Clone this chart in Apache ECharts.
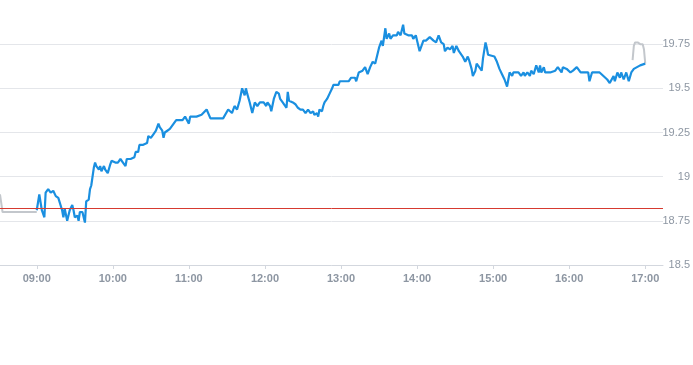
<!DOCTYPE html>
<html>
<head>
<meta charset="utf-8">
<script src="https://cdn.jsdelivr.net/npm/echarts@6/dist/echarts.min.js"></script>
<style>
html,body{margin:0;padding:0;background:#fff;}
#chart{width:693px;height:365px;}
</style>
</head>
<body>
<div id="chart"></div>
<script>
// Axis range (minutes, as HH:MM category labels)
var axisStart = '08:31';
var axisEnd = '17:14';
var prevClose = 18.82;
var yTicks = [18.5, 18.75, 19, 19.25, 19.5, 19.75];

// Pre-market (grey)
var preTimes = ['08:31','08:33','09:00'];
var preValues = [18.90, 18.80, 18.80];

// Regular session (blue)
var mainTimes = ['09:00','09:02','09:04','09:06','09:07','09:09','09:11','09:13','09:15','09:17','09:20','09:21','09:22','09:24','09:26','09:28','09:29','09:30','09:32','09:33','09:34','09:36','09:38','09:39','09:41','09:42','09:43','09:45','09:46','09:47','09:49','09:50','09:51','09:53','09:54','09:56','09:58','09:59',
'10:00','10:02','10:04','10:06','10:08','10:10','10:11','10:14','10:15','10:17','10:18','10:20','10:21','10:24','10:25','10:27','10:28','10:30','10:32','10:34','10:36','10:37','10:39','10:40','10:41','10:43','10:45','10:46','10:48','10:50','10:53','10:55','10:57','10:58',
'11:00','11:01','11:06','11:07','11:10','11:14','11:17','11:27','11:31','11:34','11:36','11:38','11:40','11:42','11:44','11:45','11:46','11:48','11:50','11:51','11:52','11:54','11:56','11:57','11:59',
'12:01','12:02','12:04','12:05','12:07','12:09','12:11','12:12','12:14','12:17','12:18','12:19','12:20','12:22','12:24','12:26','12:28','12:30','12:32','12:34','12:36','12:38','12:39','12:41','12:42','12:43','12:45','12:46','12:47','12:49','12:51','12:53','12:54','12:58','12:59',
'13:06','13:08','13:11','13:12','13:14','13:17','13:19','13:20','13:21','13:23','13:25','13:27','13:28','13:30','13:32','13:33','13:35','13:36','13:38','13:39','13:41','13:44','13:45','13:47','13:49','13:50','13:53','13:56','13:57','13:59',
'14:00','14:02','14:04','14:05','14:07','14:10','14:11','14:13','14:15','14:17','14:19','14:21','14:22','14:24','14:26','14:28','14:29','14:31','14:33','14:34','14:36','14:38','14:40','14:41','14:43','14:44','14:46','14:47','14:49','14:51','14:52','14:54','14:55','14:56',
'15:01','15:03','15:05','15:07','15:08','15:09','15:11','15:13','15:15','15:16','15:20','15:22','15:24','15:25','15:27','15:29','15:30','15:32','15:33','15:34','15:36','15:37','15:38','15:40','15:41','15:45','15:49','15:51','15:54','15:55','15:58',
'16:01','16:03','16:06','16:09','16:15','16:16','16:18','16:24','16:27','16:30','16:32','16:35','16:36','16:38','16:40','16:41','16:43','16:45','16:47','16:49','16:51','16:56','17:00'];
var mainValues = [18.81,18.90,18.81,18.77,18.91,18.93,18.91,18.92,18.89,18.88,18.81,18.77,18.82,18.75,18.81,18.84,18.81,18.77,18.78,18.75,18.80,18.80,18.74,18.86,18.87,18.93,18.95,19.05,19.08,19.06,19.04,19.06,19.03,19.06,19.04,19.02,19.07,19.09,
19.08,19.08,19.08,19.10,19.08,19.06,19.10,19.10,19.11,19.11,19.14,19.14,19.18,19.18,19.19,19.19,19.23,19.22,19.24,19.26,19.30,19.28,19.26,19.22,19.25,19.26,19.27,19.28,19.30,19.32,19.32,19.32,19.34,19.34,
19.30,19.34,19.34,19.33,19.35,19.38,19.33,19.33,19.38,19.36,19.40,19.38,19.43,19.50,19.46,19.50,19.47,19.42,19.36,19.39,19.42,19.40,19.42,19.41,19.42,
19.40,19.42,19.40,19.37,19.44,19.48,19.47,19.44,19.42,19.39,19.48,19.43,19.44,19.42,19.41,19.39,19.38,19.38,19.36,19.38,19.36,19.37,19.35,19.36,19.34,19.38,19.37,19.40,19.42,19.44,19.47,19.50,19.52,19.52,19.54,
19.54,19.56,19.56,19.54,19.59,19.60,19.62,19.60,19.58,19.62,19.65,19.64,19.64,19.73,19.77,19.74,19.84,19.78,19.81,19.78,19.80,19.80,19.82,19.80,19.86,19.81,19.80,19.80,19.78,19.80,
19.81,19.71,19.75,19.77,19.77,19.79,19.80,19.77,19.76,19.80,19.76,19.75,19.71,19.73,19.72,19.74,19.70,19.74,19.71,19.70,19.68,19.65,19.68,19.66,19.61,19.57,19.60,19.64,19.62,19.60,19.67,19.76,19.73,19.69,
19.68,19.65,19.61,19.58,19.57,19.55,19.51,19.59,19.57,19.59,19.59,19.57,19.59,19.57,19.59,19.57,19.60,19.58,19.59,19.63,19.59,19.63,19.59,19.62,19.59,19.59,19.60,19.62,19.59,19.62,19.61,
19.59,19.60,19.62,19.59,19.59,19.54,19.59,19.59,19.57,19.55,19.53,19.57,19.54,19.59,19.56,19.59,19.55,19.59,19.54,19.59,19.61,19.63,19.64];

// After-hours (grey)
var postTimes = ['16:50','16:51','16:52','16:54','16:56','16:57','16:58','16:59','17:00'];
var postValues = [19.66, 19.74, 19.76, 19.76, 19.75, 19.74, 19.75, 19.72, 19.64];

function toMin(s){ var p = s.split(':'); return (+p[0]) * 60 + (+p[1]); }
function toLabel(m){ var h = Math.floor(m / 60), mm = m % 60; return (h < 10 ? '0' : '') + h + ':' + (mm < 10 ? '0' : '') + mm; }
var categories = [];
for (var m = toMin(axisStart); m <= toMin(axisEnd); m++) categories.push(toLabel(m));
function zip(t, v){ return t.map(function(x, i){ return [x, v[i]]; }); }
function isHour(idx, val){ return /:00$/.test(val); }

var chart = echarts.init(document.getElementById('chart'), null, {renderer: 'canvas'});
chart.setOption({
  animation: false,
  grid: {left: 0, right: 30, top: 0, bottom: 100, containLabel: false},
  xAxis: {
    type: 'category',
    data: categories,
    boundaryGap: false,
    axisLine: {lineStyle: {color: '#d3d7de', width: 1}},
    axisTick: {show: true, length: 4, interval: isHour, lineStyle: {color: '#d3d7de'}},
    axisLabel: {interval: isHour, color: '#8d96a2', fontSize: 11, fontWeight: 'bold', margin: 8, fontFamily: 'Liberation Sans, Arial, sans-serif'},
    splitLine: {show: false}
  },
  yAxis: {
    type: 'value',
    position: 'right',
    min: yTicks[0],
    max: 20,
    interval: 0.25,
    axisLine: {show: false},
    axisTick: {show: false},
    axisLabel: {
      align: 'right', margin: 27, color: '#8d96a2', fontSize: 11, showMaxLabel: false,
      fontFamily: 'Liberation Sans, Arial, sans-serif',
      formatter: function(v){ return String(+v.toFixed(2)); }
    },
    splitLine: {showMaxLine: false, lineStyle: {color: '#e4e6ea', width: 1}}
  },
  series: [
    {
      type: 'line', data: zip(preTimes, preValues), showSymbol: false, symbol: 'none',
      lineStyle: {color: '#c3c7cc', width: 2}, z: 2
    },
    {
      type: 'line', data: zip(postTimes, postValues), showSymbol: false, symbol: 'none',
      lineStyle: {color: '#c3c7cc', width: 2}, z: 2
    },
    {
      type: 'line', data: zip(mainTimes, mainValues), showSymbol: false, symbol: 'none',
      lineStyle: {color: '#1a8fe0', width: 2.2}, z: 3,
      markLine: {
        silent: true, symbol: 'none', label: {show: false},
        lineStyle: {color: '#d63a30', width: 1, type: 'solid'},
        data: [{yAxis: prevClose}]
      }
    }
  ]
});
</script>
</body>
</html>
